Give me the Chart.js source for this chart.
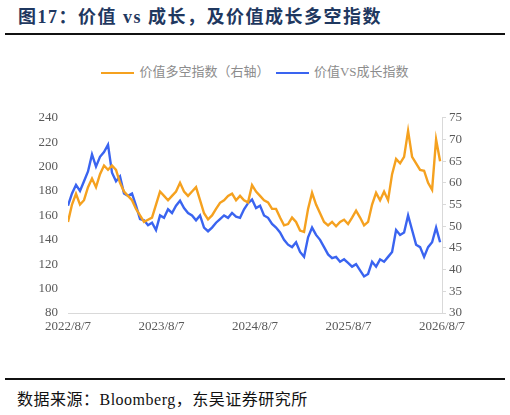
<!DOCTYPE html>
<html>
  <head>
    <meta charset="utf-8" />
    <script src="https://cdn.jsdelivr.net/npm/chart.js"></script>
    <style>
      body { margin: 0; width: 510px; height: 415px; position: relative; background: #fff; overflow: hidden; }
      #title { position: absolute; left: 18px; top: 2px; font: bold 18px "Liberation Serif", "Noto Sans CJK SC"; color: #1f3860; letter-spacing: 1.5px; }
      .rule { position: absolute; left: 5px; width: 500px; height: 2px; background: #111; }
      #legend { position: absolute; top: 61px; left: 0; width: 510px; text-align: center; font: 13px "Liberation Serif", "Noto Sans CJK SC"; color: #8c8c8c; }
      #legend span.sw { display: inline-block; width: 33px; height: 2px; vertical-align: middle; margin-right: 5px; }
      #footer { position: absolute; left: 17px; top: 386px; font: 16px "Liberation Serif", "Noto Sans CJK SC"; color: #111; letter-spacing: 0.5px; }
      #wrap { position: absolute; left: 0; top: 100px; width: 510px; height: 243px; }
    </style>
  </head>
  <body>
    <div id="title">图17：价值 vs 成长，及价值成长多空指数</div>
    <div class="rule" style="top: 33px"></div>
    <div id="legend">
      <span class="sw" style="background: #f5a11f"></span>价值多空指数（右轴）
      &nbsp;<span class="sw" style="background: #3a64f0"></span>价值VS成长指数
    </div>
    <div id="wrap"><canvas id="chart"></canvas></div>
    <div class="rule" style="top: 378px"></div>
    <div id="footer">数据来源：Bloomberg，东吴证券研究所</div>

    <script>
      // 数据（约每半个月一个点）
      var xTickLabels = ["2022/8/7", "2023/8/7", "2024/8/7", "2025/8/7", "2026/8/7"];
      var monthStep = 0.5135; // 每个点间隔的月份
      var valueVsGrowth = [
        168, 178, 185, 180, 188, 196, 210, 200, 208, 212, 218, 195, 188, 192, 178, 176,
        178, 168, 157, 156, 152, 154, 148, 160, 158, 165, 162, 168, 172, 166, 162, 160,
        156, 160, 150, 147, 150, 154, 157, 160, 158, 162, 159, 158, 165, 170, 173, 166,
        168, 160, 158, 153, 150, 146, 140, 136, 134, 138, 130, 126, 142, 150, 144, 140,
        134, 128, 125, 126, 122, 124, 121, 118, 120, 115, 110, 112, 122, 118, 124, 122,
        126, 130, 148, 144, 146, 160, 148, 136, 134, 126, 134, 138, 150, 138,
      ];
      var valueLongShort = [
        51, 55, 57.5, 55, 56, 59, 61, 59, 62, 64, 63, 64, 63, 60, 58, 57,
        56, 54, 52.5, 51, 51.5, 52, 55, 58, 57, 56, 57, 58, 60, 58, 57, 58,
        59, 56, 53, 51.6, 52.5, 54, 55.4, 56, 57, 57.5, 56, 57, 56, 55.5, 59.5, 58,
        57, 56, 55.5, 54, 54, 52, 50.2, 50.5, 52, 51, 49, 48.7, 54, 57.7, 55, 53,
        51, 50.2, 51, 50, 51, 51.5, 50.5, 52, 53.6, 52, 50.2, 51, 55, 57.7, 56, 58,
        56, 62, 65.5, 64.5, 66, 72, 66, 64.5, 63, 62.8, 60, 58.4, 70, 65,
      ];

      var blue = valueVsGrowth.map(function (v, i) { return { x: i * monthStep, y: v }; });
      var orange = valueLongShort.map(function (v, i) { return { x: i * monthStep, y: v }; });

      var tickFont = { family: "Liberation Serif", size: 13 };
      var tickColor = "#595959";

      new Chart(document.getElementById("chart"), {
        type: "line",
        data: {
          datasets: [
            { label: "价值多空指数（右轴）", data: orange, yAxisID: "y2", borderColor: "#f5a11f", borderWidth: 2.4, pointRadius: 0, tension: 0 },
            { label: "价值VS成长指数", data: blue, yAxisID: "y", borderColor: "#3a64f0", borderWidth: 2.4, pointRadius: 0, tension: 0 },
          ],
        },
        options: {
          responsive: true,
          maintainAspectRatio: false,
          animation: false,
          layout: { padding: { top: 13, left: 0, right: 0, bottom: 0 } },
          plugins: { legend: { display: false }, tooltip: { enabled: false } },
          scales: {
            x: {
              type: "linear", min: 0, max: 48,
              grid: { display: false, drawTicks: false },
              border: { color: "#d9d9d9", width: 1 },
              ticks: {
                stepSize: 12, font: tickFont, color: tickColor, padding: 6, maxRotation: 0,
                callback: function (v) { return xTickLabels[v / 12]; },
              },
              afterFit: function (s) { s.height = 30; },
            },
            y: {
              position: "left", min: 80, max: 240,
              grid: { display: false, drawTicks: false },
              border: { display: false },
              ticks: { stepSize: 20, font: tickFont, color: tickColor, padding: 10 },
              afterFit: function (s) { s.width = 68; },
            },
            y2: {
              position: "right", min: 30, max: 75,
              grid: { display: true, drawOnChartArea: false, tickLength: 4, color: "#d9d9d9" },
              border: { color: "#d9d9d9", width: 1 },
              ticks: { stepSize: 5, font: tickFont, color: tickColor, padding: 3 },
              afterFit: function (s) { s.width = 68; },
            },
          },
        },
      });
    </script>
  </body>
</html>
